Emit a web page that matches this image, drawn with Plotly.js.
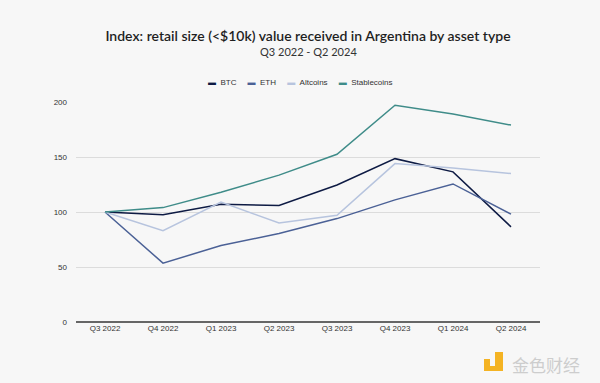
<!DOCTYPE html>
<html><head><meta charset="utf-8">
<script src="https://cdn.plot.ly/plotly-3.0.1.min.js"></script>
<style>html,body{margin:0;padding:0;background:#f7f7f7;}#chart{width:600px;height:383px;}</style>
</head><body><div id="chart"></div>
<script>
const quarters = ["Q3 2022","Q4 2022","Q1 2023","Q2 2023","Q3 2023","Q4 2023","Q1 2024","Q2 2024"];
const btc = [100, 97.5, 107, 106, 124.5, 148.5, 136.5, 86.5];
const eth = [100, 53.5, 69.5, 80.5, 94, 111, 125.5, 98];
const altcoins = [100, 83, 109, 90, 97, 144, 140, 135];
const stablecoins = [100, 104, 118, 133.5, 152.5, 197, 189, 179];
const yTicks = [0, 50, 100, 150, 200];

const names = ["BTC","ETH","Altcoins","Stablecoins"];
const series = [btc, eth, altcoins, stablecoins];
const colors = ["#0e1b44","#4b6196","#b7c4de","#3f8c89"];

const traces = series.map((s,i)=>({
  x: quarters, y: s, name: names[i], type: "scatter", mode: "lines",
  line: {color: colors[i], width: 1.5}, showlegend: false
}));

// plot-area geometry (pixels)
const W = 600, H = 383, ML = 76, MR = 60, MT = 102, MB = 61;
const PW = W - ML - MR, PH = H - MT - MB;
const px = v => (v - ML) / PW;
const py = v => (H - MB - v) / PH;

const sp = "&nbsp;";
const legendText = names.map((n,i)=>`<span style="color:${colors[i]}">▬</span>${sp}${sp}${n}`).join(sp.repeat(5));

const tickFont = {family: "'Liberation Sans', Arial, sans-serif", size: 8, color: "#333"};

const layout = {
  width: W, height: H,
  paper_bgcolor: "#f7f7f7", plot_bgcolor: "#f7f7f7",
  margin: {l: ML, r: MR, t: MT, b: MB},
  title: {text: "Index: retail size (<$10k) value received in Argentina by asset type",
    x: 0.5, xanchor: "center", xref: "paper", y: 1 - 36/H, yanchor: "middle",
    font: {family: "Lato, 'Noto Sans', sans-serif", size: 14, color: "#1f1f1f", weight: 600}},
  showlegend: false,
  xaxis: {type: "category", range: [-0.5, 7.5], showgrid: false, zeroline: false, showline: false, ticks: "",
    tickfont: tickFont},
  yaxis: {range: [0, 200], tickvals: yTicks, showgrid: true, gridcolor: "#dcdcdc", gridwidth: 1,
    zeroline: true, zerolinecolor: "#666", zerolinewidth: 1.5, ticks: "", ticklabelstandoff: 8,
    tickfont: tickFont},
  annotations: [
    {text: "Q3 2022 - Q2 2024", xref: "paper", yref: "paper", x: 0.5, y: py(52), xanchor: "center", yanchor: "middle",
     showarrow: false, font: {family: "Lato, 'Noto Sans', sans-serif", size: 11, color: "#333"}},
    {text: legendText, xref: "paper", yref: "paper", x: px(300), y: py(83), xanchor: "center", yanchor: "middle",
     showarrow: false, font: {family: "'Liberation Sans', Arial, sans-serif", size: 8, color: "#333"}},
    {text: "金色财经", xref: "paper", yref: "paper", x: px(510), y: py(364), xanchor: "left", yanchor: "middle",
     showarrow: false, font: {family: "'Noto Sans CJK SC', sans-serif", size: 17, color: "#cdcdcd"}}
  ],
  shapes: [
    {type: "rect", xref: "paper", yref: "paper", x0: px(484), x1: px(490), y0: py(366), y1: py(359), fillcolor: "#f4b323", line: {width: 0}},
    {type: "rect", xref: "paper", yref: "paper", x0: px(495), x1: px(503), y0: py(371), y1: py(352), fillcolor: "#f4b323", line: {width: 0}},
    {type: "rect", xref: "paper", yref: "paper", x0: px(484), x1: px(503), y0: py(371), y1: py(366), fillcolor: "#f4b323", line: {width: 0}}
  ]
};

Plotly.newPlot("chart", traces, layout, {displayModeBar: false, staticPlot: true});
</script></body></html>
